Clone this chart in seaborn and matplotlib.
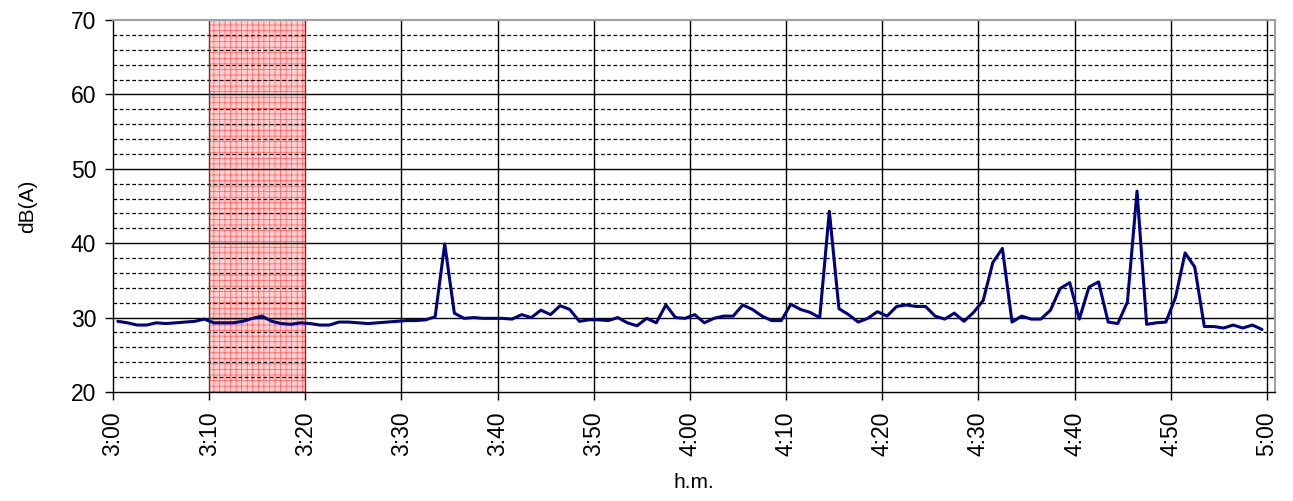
import numpy as np
import matplotlib
matplotlib.use("Agg")
import matplotlib.pyplot as plt
import seaborn as sns
import pandas as pd

# noise level, one reading per minute (plotted at the half minute) from 3:00 to 5:00
levels = [
    29.5, 29.3, 29.0, 29.0, 29.3, 29.2, 29.3, 29.4, 29.5, 29.8,
    29.3, 29.3, 29.3, 29.5, 29.9, 30.2, 29.5, 29.2, 29.1, 29.3,
    29.2, 29.0, 29.0, 29.4, 29.4, 29.3, 29.2, 29.3, 29.4, 29.5,
    29.6, 29.6, 29.7, 30.1, 39.9, 30.6, 29.9, 30.0, 29.9, 29.9,
    29.9, 29.8, 30.4, 30.0, 31.0, 30.4, 31.6, 31.1, 29.5, 29.7,
    29.7, 29.6, 30.0, 29.3, 28.9, 29.9, 29.3, 31.7, 30.0, 29.9,
    30.4, 29.3, 29.9, 30.2, 30.2, 31.7, 31.1, 30.2, 29.6, 29.6,
    31.8, 31.1, 30.7, 30.0, 44.3, 31.2, 30.4, 29.4, 29.9, 30.8,
    30.2, 31.5, 31.7, 31.5, 31.5, 30.2, 29.8, 30.6, 29.5, 30.7,
    32.3, 37.4, 39.3, 29.4, 30.2, 29.8, 29.8, 31.0, 33.9, 34.7,
    29.8, 34.1, 34.8, 29.4, 29.2, 32.1, 47.0, 29.1, 29.3, 29.4,
    32.7, 38.7, 36.8, 28.8, 28.8, 28.6, 29.0, 28.6, 29.0, 28.4,
]
minutes = [i + 0.5 for i in range(len(levels))]
tick_minutes = list(range(0, 121, 10))
tick_labels = ["3:00", "3:10", "3:20", "3:30", "3:40", "3:50", "4:00",
               "4:10", "4:20", "4:30", "4:40", "4:50", "5:00"]
shade_start, shade_end = 10, 20

df = pd.DataFrame({"minute": minutes, "dBA": levels})

sns.set_style("white")
plt.rcParams["font.family"] = ["Liberation Sans", "DejaVu Sans"]
plt.rcParams["text.color"] = "black"
plt.rcParams["axes.labelcolor"] = "black"
plt.rcParams["xtick.color"] = "black"
plt.rcParams["ytick.color"] = "black"
plt.rcParams["hatch.color"] = "#ff5a5a"
plt.rcParams["hatch.linewidth"] = 0.5

fig = plt.figure(figsize=(12.93, 5.01), dpi=100)
ax = fig.add_axes([113 / 1293, 1 - 392 / 501, (1275 - 113) / 1293, (392 - 20) / 501])

# shaded period
ax.axvspan(shade_start, shade_end, facecolor="#ffd0d0", edgecolor="#ff5a5a",
           hatch="+++", linewidth=0, zorder=0)

# grid
for y in np.arange(22, 70, 2):
    if y % 10:
        ax.axhline(y, color="black", linestyle=(0, (3, 2)), linewidth=0.9, zorder=1)
for y in range(30, 70, 10):
    ax.axhline(y, color="black", linewidth=1.0, zorder=1)
for x in tick_minutes[1:]:
    c = "#7a2a2a" if x in (shade_start, shade_end) else "black"
    ax.axvline(x, color=c, linewidth=1.0, zorder=1)

sns.lineplot(data=df, x="minute", y="dBA", color="#000080", linewidth=2.2, ax=ax, zorder=3)

ax.set_xlim(0, 120.85)
ax.set_ylim(20, 70)
ax.set_xticks(tick_minutes)
ax.set_xticklabels(tick_labels, rotation=90)
ax.set_yticks(range(20, 71, 10))
ax.tick_params(axis="y", pad=6)
ax.tick_params(axis="x", pad=8)
ax.tick_params(axis="both", direction="out", length=6, width=1, color="black",
               labelsize=16.5, bottom=True, left=True)
ax.set_xlabel("h.m.", fontsize=15, labelpad=12)
ax.set_ylabel("dB(A)", fontsize=15, labelpad=24)

for side in ("top", "right"):
    ax.spines[side].set_color("#a0a0a0")
    ax.spines[side].set_linewidth(1.5)
for side in ("left", "bottom"):
    ax.spines[side].set_color("black")
    ax.spines[side].set_linewidth(1.0)

fig.savefig("out.png", dpi=100)
